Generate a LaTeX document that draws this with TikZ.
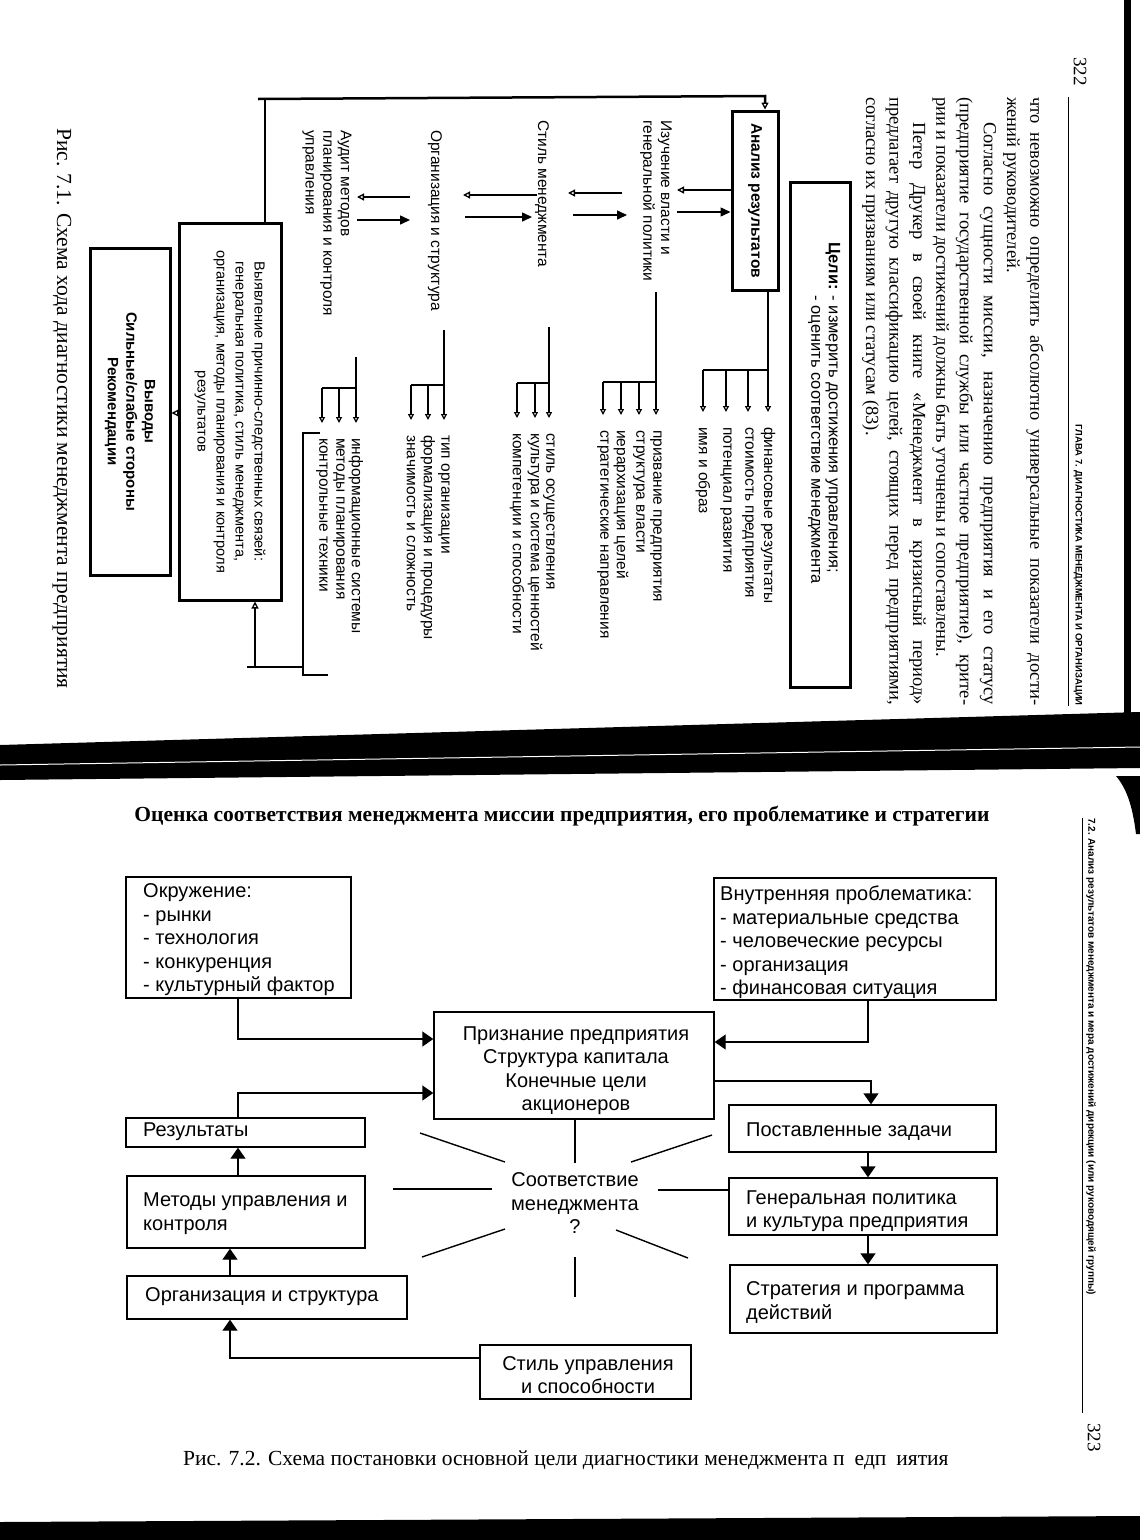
\documentclass[tikz,border=0pt]{standalone}
\usepackage{fontspec}
\usepackage{graphicx}
\setmainfont{Liberation Serif}
\newfontfamily\rsSans{Liberation Sans}
\usetikzlibrary{arrows.meta}
\newcommand\rsBody{\fontsize{18.5}{22}\selectfont}
\newcommand\rsLbl{\rsSans\fontsize{15.5}{17.7}\selectfont}
\newcommand\rsBot{\rsSans\fontsize{20}{23.5}\selectfont}
\begin{document}
\begin{tikzpicture}[x=1pt,y=-1pt,
  rot/.style={rotate=-90,anchor=west,inner sep=0pt},
  bodyline/.style={rot,font=\rsBody},
  lbl/.style={rot,font=\rsLbl,align=left},
  tbox/.style={draw,line width=3pt,inner sep=2pt},
  tline/.style={line width=2.5pt},
  tipS/.style={-{Triangle[open,length=7pt,width=7pt,line width=1.3pt]}},
  tarrR/.style={line width=1.5pt,-{Triangle[length=10pt,width=9pt]}},
  larr/.style={line width=2.2pt,-{Triangle[open,length=6pt,width=6pt,line width=1.2pt]},shorten >=15pt},
  bbox/.style={draw,line width=1.4pt,inner sep=0pt},
  btxt/.style={font=\rsBot,align=left,inner sep=0pt,anchor=west},
  bctr/.style={font=\rsBot,align=center,inner sep=0pt},
  bline/.style={line width=1.4pt},
  barr/.style={line width=1.4pt,-{Triangle[length=11pt,width=15pt]}}
]
\useasboundingbox (0,0) rectangle (1140,1540);
\fill[white] (0,0) rectangle (1140,1540);

% ================= page decorations =================
\fill[black] (1124,0) rectangle (1131,716);
\fill[black] (0,745) -- (1140,712) -- (1140,768) -- (0,780) -- cycle;
\draw[white,line width=1pt] (0,765) -- (1140,747);
\fill[black] (1116,776) .. controls (1128,790) and (1133,810) .. (1136,834) -- (1140,834) -- (1140,776) -- cycle;
\fill[black] (0,1522) -- (1140,1516) -- (1140,1540) -- (0,1540) -- cycle;

% ================= page 322 (rotated) =================
\node[rot,font=\fontsize{19}{22}\selectfont] (p322) at (1080,57) {322};
\draw[line width=0.8pt] (1068,97) -- (1068,706);
\node[rot,anchor=east,font=\rsSans\bfseries\fontsize{9.5}{11}\selectfont] (hdrA) at (1078,706) {ГЛАВА 7. ДИАГНОСТИКА МЕНЕДЖМЕНТА И ОРГАНИЗАЦИИ};

\node[bodyline] (b1) at (1035,97) {\makebox[608pt][s]{что невозможно определить абсолютно универсальные показатели дости-}};
\node[bodyline] (b2) at (1011.5,97) {жений руководителей.};
\node[bodyline] (b3) at (988,122) {\makebox[583pt][s]{Согласно сущности миссии, назначению предприятия и его статусу}};
\node[bodyline] (b4) at (964.5,97) {\makebox[608pt][s]{(предприятие государственной службы или частное предприятие), крите-}};
\node[bodyline] (b5) at (941,97) {рии и показатели достижений должны быть уточнены и сопоставлены.};
\node[bodyline] (b6) at (917.5,122) {\makebox[583pt][s]{Петер Друкер в своей книге «Менеджмент в кризисный период»}};
\node[bodyline] (b7) at (894,97) {\makebox[608pt][s]{предлагает другую классификацию целей, стоящих перед предприятиями,}};
\node[bodyline] (b8) at (870.5,97) {согласно их призваниям или статусам (83).};

% ----- figure 7.1 -----
\node[tbox,minimum width=60pt,minimum height=505pt] (celi) at (820,434.5) {};
\node[rot,font=\rsSans\fontsize{16.5}{17.5}\selectfont] (celiT) at (823.5,242) {\begin{tabular}{@{}l@{\hspace{6pt}}l@{}}\textbf{Цели:} & - измерить достижения управления;\\ & - оценить соответствие менеджмента\end{tabular}};

\node[tbox,minimum width=46pt,minimum height=179pt] (anal) at (755,200.5) {\rotatebox{-90}{\rsLbl\bfseries Анализ результатов}};
\node[lbl] (izu) at (656,120) {Изучение власти и\\генеральной политики};
\node[lbl] (stl) at (542,120) {Стиль менеджмента};
\node[lbl] (orgT) at (435,130) {Организация и структура};
\node[lbl] (aud) at (327,130) {Аудит методов\\планирования и контроля\\управления};

\node[tbox,minimum width=102pt,minimum height=377pt] (vyav) at (230,411.5) {\rotatebox{-90}{\rsSans\fontsize{14.6}{19}\selectfont\begin{tabular}{@{}c@{}}Выявление причинно-следственных связей:\\генеральная политика, стиль менеджмента,\\организация, методы планирования и контроля\\результатов\end{tabular}}};
\node[tbox,minimum width=80pt,minimum height=327pt] (vyv) at (130,411.5) {\rotatebox{-90}{\rsSans\bfseries\fontsize{15}{18.5}\selectfont\begin{tabular}{@{}c@{}}Выводы\\Сильные/слабые стороны\\Рекомендации\end{tabular}}};

\node[rot,font=\fontsize{21.5}{25}\selectfont] (cap1) at (62,128) {Рис. 7.1. Схема хода диагностики менеджмента предприятия};

% pair arrows between stages
\coordinate (pa1) at (677,190); \coordinate (pb1) at (677,212);
\draw[tline,tipS] (anal.west |- pa1) -- (pa1);
\draw[tarrR] (pb1) -- (anal.west |- pb1);
\coordinate (pa2s) at (622,193); \coordinate (pa2e) at (568,193);
\coordinate (pb2s) at (573,215); \coordinate (pb2e) at (627,215);
\draw[tline,tipS] (pa2s) -- (pa2e);
\draw[tarrR] (pb2s) -- (pb2e);
\coordinate (pa3s) at (537,195); \coordinate (pa3e) at (463,195);
\coordinate (pb3s) at (465,217); \coordinate (pb3e) at (532,217);
\draw[tline,tipS] (pa3s) -- (pa3e);
\draw[tarrR] (pb3s) -- (pb3e);
\coordinate (pa4s) at (410,197); \coordinate (pa4e) at (357,197);
\coordinate (pb4s) at (357,220); \coordinate (pb4e) at (410,220);
\draw[tline,tipS] (pa4s) -- (pa4e);
\draw[tarrR] (pb4s) -- (pb4e);

% lists
\node[lbl] (la1) at (768,427) {финансовые результаты};
\node[lbl] (la2) at (748,427) {стоимость предприятия};
\node[lbl] (la3) at (726,427) {потенциал развития};
\node[lbl] (la4) at (703,427) {имя и образ};
\coordinate (gA) at (768,370);
\draw[tline] (anal.south -| gA) -- (gA) -- (gA -| la4);
\foreach \n in {1,...,4} \draw[larr] (gA -| la\n) -- (la\n.west);

\node[lbl] (lb1) at (656,430) {призвание предприятия};
\node[lbl] (lb2) at (639,430) {структура власти};
\node[lbl] (lb3) at (621,430) {иерархизация целей};
\node[lbl] (lb4) at (603,430) {стратегические направления};
\coordinate (gB0) at (656,292); \coordinate (gB) at (656,382);
\draw[tline] (gB0) -- (gB) -- (gB -| lb4);
\foreach \n in {1,...,4} \draw[larr] (gB -| lb\n) -- (lb\n.west);

\node[lbl] (lc1) at (549,433) {стиль осуществления};
\node[lbl] (lc2) at (535,433) {культура и система ценностей};
\node[lbl] (lc3) at (517,433) {компетенции и способности};
\coordinate (gC0) at (549,327); \coordinate (gC) at (549,383);
\draw[tline] (gC0) -- (gC) -- (gC -| lc3);
\foreach \n in {1,...,3} \draw[larr] (gC -| lc\n) -- (lc\n.west);

\node[lbl] (ld1) at (444,435) {тип организации};
\node[lbl] (ld2) at (428,435) {формализация и процедуры};
\node[lbl] (ld3) at (411,435) {значимость и сложность};
\coordinate (gD0) at (444,330); \coordinate (gD) at (444,385);
\draw[tline] (gD0) -- (gD) -- (gD -| ld3);
\foreach \n in {1,...,3} \draw[larr] (gD -| ld\n) -- (ld\n.west);

\node[lbl] (le1) at (356,438) {информационные системы};
\node[lbl] (le2) at (339,438) {методы планирования};
\node[lbl] (le3) at (322,438) {контрольные техники};
\coordinate (gE0) at (356,357); \coordinate (gE) at (356,388);
\draw[tline] (gE0) -- (gE) -- (gE -| le3);
\foreach \n in {1,...,3} \draw[larr] (gE -| le\n) -- (le\n.west);

% feedback loop and collectors
\coordinate (fb0) at (258,99); \coordinate (fb1) at (265,99); \coordinate (fb2) at (765,96);
\draw[tline] (vyav.north -| fb1) -- (fb1);
\draw[tline,tipS] (fb0) -- (fb2) -- (anal.north -| fb2);
\coordinate (vv) at (0,413);
\draw[tline,tipS] (vyav.west |- vv) -- (vyv.east |- vv);
\coordinate (k0) at (247,667); \coordinate (k1) at (255,667); \coordinate (k2) at (303,667);
\draw[tline,tipS] (k1) -- (vyav.south -| k1);
\draw[tline] (k0) -- (k2);
\coordinate (br1) at (320,433); \coordinate (br2) at (303,433);
\coordinate (br3) at (303,675); \coordinate (br4) at (328,675);
\draw[tline] (br1) -- (br2) -- (br3) -- (br4);

% ================= page 323 =================
\node[rot,font=\rsSans\bfseries\fontsize{10}{12}\selectfont] (hdrB) at (1091,818) {7.2. Анализ результатов менеджмента и мера достижений дирекции (или руководящей группы)};
\draw[line width=0.8pt] (1082,818) -- (1082,1413);
\node[rot,font=\fontsize{19}{22}\selectfont] (p323) at (1094,1423) {323};

\node[font=\bfseries\fontsize{21.5}{25}\selectfont,inner sep=0pt] (title) at (562,816) {Оценка соответствия менеджмента миссии предприятия, его проблематике и стратегии};

\node[bbox,minimum width=225pt,minimum height=121pt] (okr) at (238.5,937.5) {};
\node[btxt] (okrT) at (143,940) {Окружение:\\- рынки\\- технология\\- конкуренция\\- культурный фактор};
\node[bbox,minimum width=282pt,minimum height=122pt] (vnu) at (855,939) {};
\node[btxt] (vnuT) at (720,942.5) {Внутренняя проблематика:\\- материальные средства\\- человеческие ресурсы\\- организация\\- финансовая ситуация};
\node[bbox,minimum width=280pt,minimum height=107pt] (priz) at (574,1065.5) {};
\node[bctr] (prizT) at (576,1070.5) {Признание предприятия\\Структура капитала\\Конечные цели\\акционеров};
\node[bbox,minimum width=239pt,minimum height=29pt] (res) at (245.5,1132.5) {};
\node[btxt] (resT) at (143,1132) {Результаты};
\node[bbox,minimum width=267pt,minimum height=47pt] (post) at (862.5,1128.5) {};
\node[btxt] (postT) at (746,1132) {Поставленные задачи};
\node[bbox,minimum width=238pt,minimum height=72pt] (met) at (246,1212) {};
\node[btxt] (metT) at (143,1213.5) {Методы управления и\\контроля};
\node[bbox,minimum width=268pt,minimum height=57pt] (gen) at (863,1206.5) {};
\node[btxt] (genT) at (746,1211) {Генеральная политика\\и культура предприятия};
\node[bbox,minimum width=280pt,minimum height=43pt] (org) at (267,1297.5) {};
\node[btxt] (orgBT) at (145,1297) {Организация и структура};
\node[bbox,minimum width=267pt,minimum height=68pt] (strat) at (863.5,1299) {};
\node[btxt] (stratT) at (746,1302.5) {Стратегия и программа\\действий};
\node[bbox,minimum width=211pt,minimum height=54pt] (stil) at (585.5,1372) {};
\node[bctr] (stilT) at (588,1375) {Стиль управления\\и способности};
\node[bctr] (soot) at (575,1203.5) {Соответствие\\менеджмента\\?};

\node[anchor=west,inner sep=0pt,font=\fontsize{21.5}{25}\selectfont] (cap2) at (183,1460) {Рис. 7.2. Схема постановки основной цели диагностики менеджмента п\hspace{10pt}едп\hspace{10pt}иятия};

% arrows
\coordinate (xL) at (238,0); \coordinate (xL2) at (230,0); \coordinate (xR) at (868,0); \coordinate (xR2) at (871,0);
\draw[barr] (okr.south -| xL) |- (priz.west |- 0,1039);
\draw[barr] (res.north -| xL) |- (priz.west |- 0,1093);
\draw[barr] (vnu.south -| xR) |- (priz.east |- 0,1042);
\draw[barr] (priz.east |- 0,1081) -| (post.north -| xR2);
\draw[barr] (met.north -| xL) -- (res.south -| xL);
\draw[barr] (org.north -| xL2) -- (met.south -| xL2);
\draw[barr] (stil.west |- 0,1358) -| (org.south -| xL2);
\draw[barr] (post.south -| xR) -- (gen.north -| xR);
\draw[barr] (gen.south -| xR) -- (strat.north -| xR);

% radiating lines
\coordinate (r0) at (575,1163);
\coordinate (r1a) at (420,1133); \coordinate (r1b) at (505,1162);
\coordinate (r2a) at (393,1189); \coordinate (r2b) at (492,1189);
\coordinate (r3a) at (505,1229); \coordinate (r3b) at (422,1257);
\coordinate (r4a) at (575,1257); \coordinate (r4b) at (575,1297);
\coordinate (r5a) at (616,1230); \coordinate (r5b) at (688,1258);
\coordinate (r6a) at (658,1190);
\coordinate (r7a) at (631,1162); \coordinate (r7b) at (712,1135);
\draw[bline] (priz.south -| r0) -- (r0);
\draw[bline] (r1a) -- (r1b);
\draw[bline] (r2a) -- (r2b);
\draw[bline] (r3a) -- (r3b);
\draw[bline] (r4a) -- (r4b);
\draw[bline] (r5a) -- (r5b);
\draw[bline] (r6a) -- (gen.west |- r6a);
\draw[bline] (r7a) -- (r7b);
\end{tikzpicture}
\end{document}
